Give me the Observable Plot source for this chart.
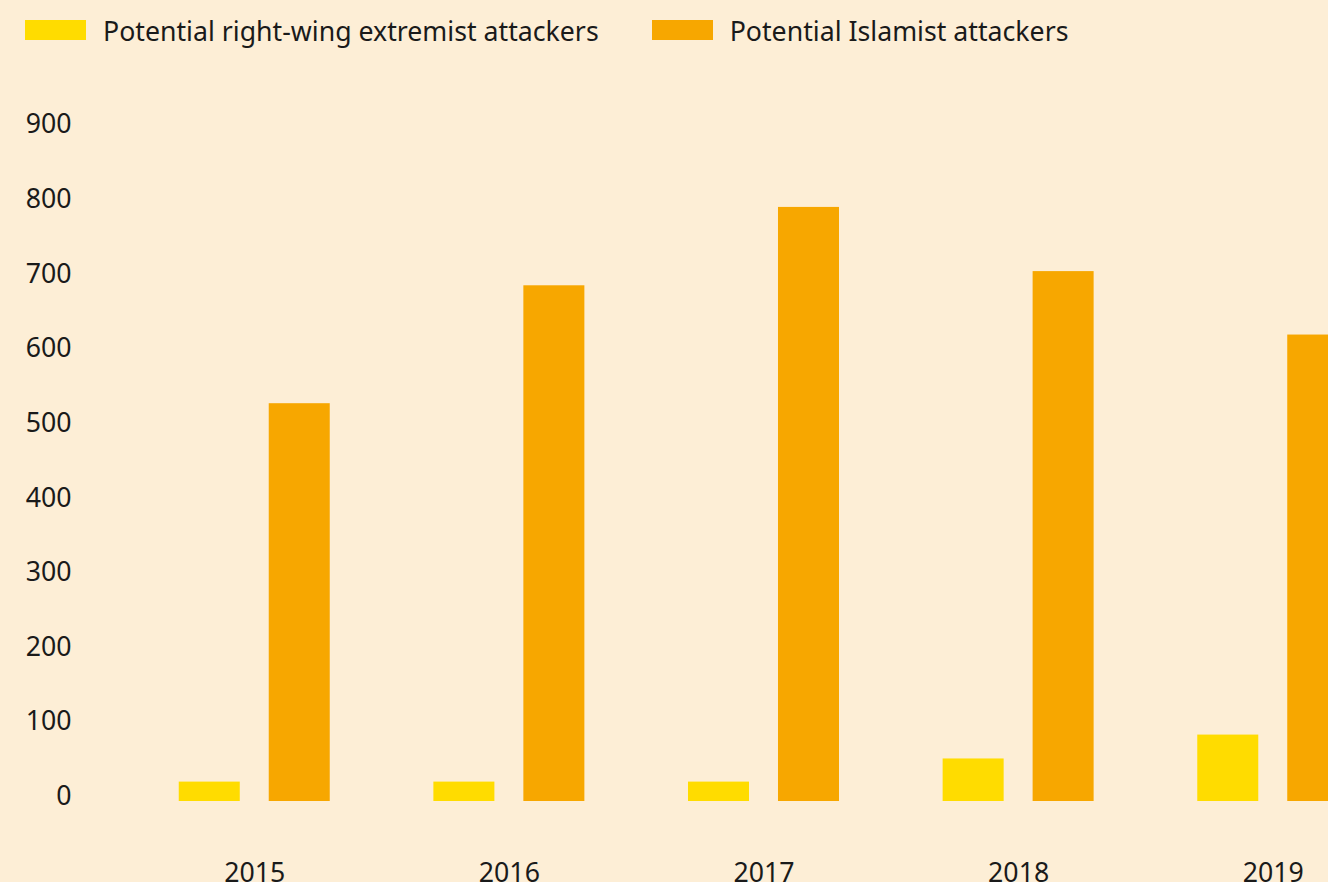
<!DOCTYPE html>
<html>
<head>
<meta charset="utf-8">
<script src="https://cdn.jsdelivr.net/npm/d3@7"></script>
<script src="https://cdn.jsdelivr.net/npm/@observablehq/plot@0.6"></script>
<style>
  html, body { margin: 0; padding: 0; background: #FDEED6; overflow: hidden; width: 1328px; height: 882px; }
  body { font-family: "Noto Sans", sans-serif; color: #1a1a1a; }
  #legend { height: 60px; display: flex; align-items: center; padding-left: 25px; font-size: 26.7px; }
  .item { display: flex; align-items: center; margin-right: 53px; white-space: nowrap; }
  .sw { width: 61px; height: 20px; margin-right: 17px; }
  #chart svg { display: block; overflow: visible; max-width: none !important; height: 841px !important; }
</style>
</head>
<body>
<div id="legend"></div>
<div id="chart"></div>
<script>
const years = ["2015", "2016", "2017", "2018", "2019"];
const seriesNames = ["Potential right-wing extremist attackers", "Potential Islamist attackers"];
const seriesColors = ["#FFDC00", "#F7A700"];
const rightWing = [26, 26, 26, 57, 89];
const islamist = [533, 691, 796, 710, 625];
const yTicks = [0, 100, 200, 300, 400, 500, 600, 700, 800, 900];

const legend = document.getElementById("legend");
seriesNames.forEach((name, i) => {
  const it = document.createElement("div");
  it.className = "item";
  const sw = document.createElement("div");
  sw.className = "sw";
  sw.style.background = seriesColors[i];
  const tx = document.createElement("span");
  tx.textContent = name;
  it.appendChild(sw);
  it.appendChild(tx);
  legend.appendChild(it);
});

const data = [];
years.forEach((y, i) => {
  data.push({year: y, series: seriesNames[0], value: rightWing[i]});
  data.push({year: y, series: seriesNames[1], value: islamist[i]});
});

const chart = Plot.plot({
  width: 1430,
  height: 841,
  marginTop: 69.3,
  marginBottom: 100,
  marginLeft: 110,
  marginRight: 13,
  style: {background: "transparent", fontFamily: "Noto Sans", color: "#1a1a1a"},
  fx: {domain: years, paddingInner: 0.407, paddingOuter: 0.27, round: false, label: null},
  x: {domain: seriesNames, paddingInner: 0.322, paddingOuter: 0, round: false, axis: null},
  y: {domain: [0, 900], label: null},
  color: {domain: seriesNames, range: seriesColors},
  marks: [
    Plot.barY(data, {fx: "year", x: "series", y: "value", fill: "series", inset: 0}),
    Plot.axisY({ticks: yTicks, tickSize: 0, tickPadding: 107.7, fontSize: 26.7, dy: -5, label: null, tickFormat: d => String(d)}),
    Plot.axisFx({anchor: "bottom", tickSize: 0, tickPadding: 61.6, fontSize: 26.7, label: null})
  ]
});
document.getElementById("chart").appendChild(chart);
</script>
</body>
</html>
